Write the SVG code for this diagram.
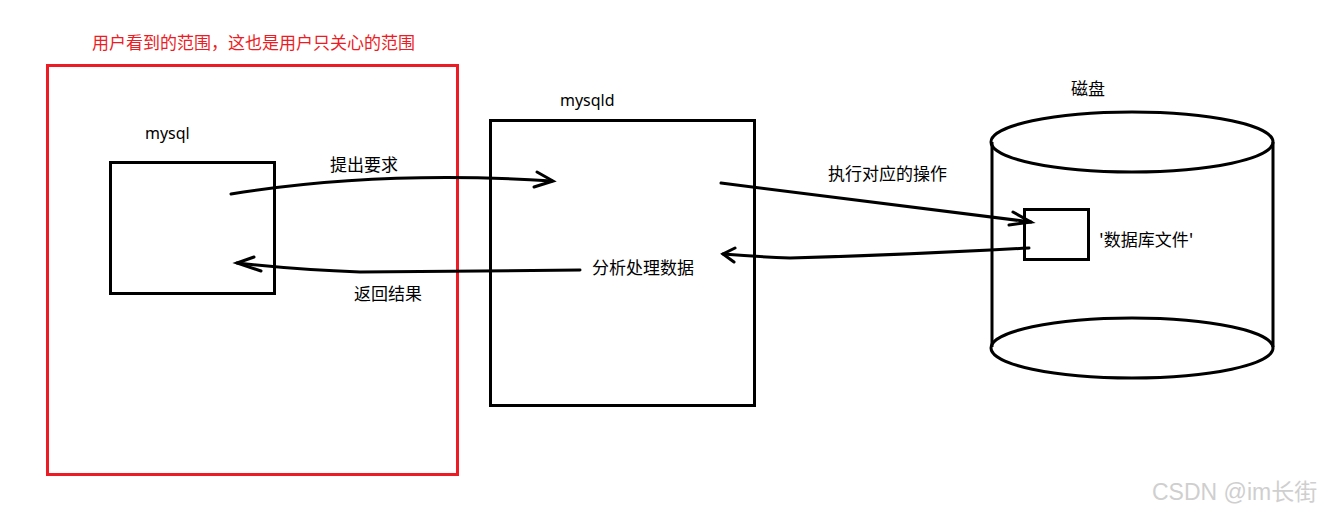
<svg xmlns="http://www.w3.org/2000/svg" width="1328" height="514" viewBox="0 0 1328 514">
<style>
.box{fill:none;stroke:#000;stroke-width:3}
.ln{fill:none;stroke:#000;stroke-width:3;stroke-linecap:round}
.t{font-family:"Noto Sans","Noto Sans CJK SC",sans-serif;font-size:16px;fill:#000}
.tc{font-family:"Noto Sans CJK SC",sans-serif;font-size:17px;fill:#000}
</style>
<rect width="1328" height="514" fill="#fff"/>
<g id="scope">
<rect x="47.5" y="65.5" width="410" height="409" fill="none" stroke="#ed1c24" stroke-width="3"/>
<text x="92" y="49" font-family="Noto Sans CJK SC,sans-serif" font-size="17" fill="#ed1c24">用户看到的范围，这也是用户只关心的范围</text>
</g>
<g id="mysql">
<rect class="box" x="110.5" y="162.5" width="164" height="131"/>
<text class="t" x="145" y="139">mysql</text>
</g>
<g id="mysqld">
<rect class="box" x="490.5" y="120.5" width="264" height="285"/>
<text class="t" x="560" y="106">mysqld</text>
<text class="tc" x="592" y="274">分析处理数据</text>
</g>
<g id="disk">
<ellipse class="box" cx="1132" cy="142" rx="141" ry="30"/>
<path class="box" d="M992 142 V347 M1273 142 V347"/>
<ellipse class="box" cx="1132" cy="348" rx="141" ry="30"/>
<text class="tc" x="1071" y="95">磁盘</text>
</g>
<g id="dbfile">
<rect class="box" x="1024.5" y="209.5" width="64" height="50"/>
<text class="tc" x="1099" y="246">'数据库文件'</text>
</g>
<g id="connectors">
<path class="ln" d="M231 194 Q 380 170 552 181"/>
<path class="ln" d="M537 172 L553 181 L534 187"/>
<text class="tc" x="330" y="171">提出要求</text>
<path class="ln" d="M580 270 L360 272 Q 300 270 237 263"/>
<path class="ln" d="M254 257 L237 263 L261 271"/>
<text class="tc" x="354" y="300">返回结果</text>
<path class="ln" d="M721 183 L1031 222"/>
<path class="ln" d="M1013 212 L1031 222 L1009 225"/>
<text class="tc" x="828" y="180">执行对应的操作</text>
<path class="ln" d="M1029 248 Q 900 255 790 258 Q 760 257 723 254"/>
<path class="ln" d="M735 248 L723 254 L734 262"/>
</g>
<text x="1152" y="500" font-family="Liberation Sans,Noto Sans CJK SC,sans-serif" font-size="23" fill="#cfcfcf">CSDN @im长街</text>
</svg>
